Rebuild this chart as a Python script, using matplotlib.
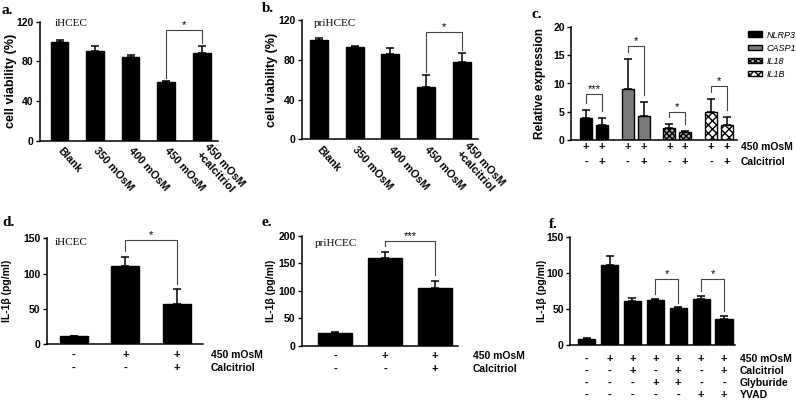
import numpy as np
import matplotlib
matplotlib.use("Agg")
import matplotlib.pyplot as plt
from matplotlib.transforms import blended_transform_factory

plt.rcParams['font.family'] = ['Liberation Sans', 'DejaVu Sans']
plt.rcParams['font.weight'] = 'bold'
plt.rcParams['axes.labelweight'] = 'bold'
plt.rcParams['hatch.linewidth'] = 1.0

W, H = 796, 401

# panel a / b : cell viability
ab_labels = ['Blank', '350 mOsM', '400 mOsM', '450 mOsM', '450 mOsM\n+calcitriol']
a_vals = [100, 91, 84, 59, 89]
a_err = [2, 5, 2.5, 1, 7]
a_sig = [(3, 4, '*', 111.7)]
b_vals = [100, 92.6, 86, 52.5, 78]
b_err = [2, 1.5, 6, 12, 9]
b_sig = [(3, 4, '*', 108)]

# panel c : relative expression
c_genes = ['NLRP3', 'CASP1', 'IL18', 'IL1B']
c_ctrl = [3.8, 9.0, 2.1, 5.0]
c_ctrl_err = [1.5, 5.4, 0.7, 2.3]
c_calc = [2.7, 4.2, 1.4, 2.6]
c_calc_err = [1.2, 2.5, 0.15, 1.5]
c_marks = ['***', '*', '*', '*']
c_sig_top = [8.1, 16.6, 4.85, 9.6]
c_osm = ['+', '+', '+', '+', '+', '+', '+', '+']
c_calcitriol = ['-', '+', '-', '+', '-', '+', '-', '+']

# panel d / e : IL-1b
d_vals = [11, 111, 57]
d_err = [0.8, 13, 21]
d_sig = [(1, 2, '*', 147.6)]
e_vals = [23.7, 159, 106]
e_err = [1.5, 12.5, 12]
e_sig = [(1, 2, '***', 191.5)]
de_osm = ['-', '+', '+']
de_calcitriol = ['-', '-', '+']

# panel f
f_vals = [9, 112, 61.8, 62, 51, 64, 36]
f_err = [0.8, 12.5, 3.2, 2.5, 1.5, 4.7, 5]
f_sig = [(3, 4, '*', 91.5), (5, 6, '*', 91.5)]
f_osm = ['-', '+', '+', '+', '+', '+', '+']
f_calcitriol = ['-', '-', '+', '-', '+', '-', '+']
f_glyburide = ['-', '-', '-', '+', '+', '-', '-']
f_yvad = ['-', '-', '-', '-', '-', '+', '+']

fig = plt.figure(figsize=(W / 100, H / 100), dpi=100)


def axes_px(left, top, right, bottom):
    return fig.add_axes([left / W, 1 - bottom / H, (right - left) / W, (bottom - top) / H])


def setup(ax, ymax, yticks, xlim, ylabel, label_x_px, left_px, right_px, lsize):
    ax.set_ylim(0, ymax)
    ax.set_xlim(*xlim)
    ax.set_yticks(yticks)
    for s in ['top', 'right']:
        ax.spines[s].set_visible(False)
    for s in ['left', 'bottom']:
        ax.spines[s].set_linewidth(1.1)
    ax.tick_params(axis='x', length=0, labelsize=7.5)
    ax.tick_params(axis='y', direction='out', length=3, width=1, labelsize=7.5, pad=1.5)
    ax.set_xticks([])
    ax.set_ylabel(ylabel, fontsize=lsize, fontweight='bold')
    # label x is the right edge of the rotated label
    ax.yaxis.set_label_coords((label_x_px - left_px) / (right_px - left_px), 0.5)


def draw_bars(ax, x, vals, errs, width, **kw):
    kw.setdefault('color', 'black')
    cont = ax.bar(x, vals, width, edgecolor='black', linewidth=1, zorder=2, **kw)
    ax.errorbar(x, vals, yerr=[np.zeros(len(vals)), errs], fmt='none', ecolor='black',
                elinewidth=1.1, capsize=3, capthick=1.1, zorder=1)
    return cont


def bracket(ax, x1, x2, top, cap1, cap2, mark, gap, fs=8):
    ax.plot([x1, x1, x2, x2], [cap1 + gap, top, top, cap2 + gap], color='#444444', lw=0.8, zorder=3)
    ax.text((x1 + x2) / 2, top, mark, ha='center', va='bottom', fontsize=fs, fontweight='normal')


def sign_rows(ax, x, rows, names, ys_px, label_x_px):
    tr = blended_transform_factory(ax.transData, fig.transFigure)
    for signs, name, y in zip(rows, names, ys_px):
        for xi, s in zip(x, signs):
            ax.text(xi, 1 - y / H, s, transform=tr, ha='center', va='center', fontsize=8)
        fig.text(label_x_px / W, 1 - y / H, name, ha='left', va='center', fontsize=7.5)


def letter(x_px, y_px, s):
    fig.text(x_px / W, 1 - y_px / H, s, family=['Liberation Serif', 'DejaVu Serif'],
             fontsize=11, fontweight='bold', ha='left', va='center')


def cell_text(ax_x_px, y_px, s):
    fig.text(ax_x_px / W, 1 - y_px / H, s, family=['Liberation Serif', 'DejaVu Serif'],
             fontsize=8, fontweight='normal', ha='left', va='center')


# ---- panels a and b
for (l, t, r, b), xl, vals, errs, sig, lx, cell, cpos, lpos in [
        ((40, 21.7, 218, 141), (-0.55, 4.46), a_vals, a_err, a_sig, 17, 'iHCEC', (55, 24), (2, 11)),
        ((301.7, 20, 478, 139.3), (-0.48, 4.45), b_vals, b_err, b_sig, 278.5, 'priHCEC', (314, 24), (262, 9))]:
    ax = axes_px(l, t, r, b)
    x = np.arange(len(vals))
    setup(ax, 120, [0, 40, 80, 120], xl, 'cell viability (%)', lx, l, r, 9)
    draw_bars(ax, x, vals, errs, 0.5)
    ax.set_xticks(x)
    ax.set_xticklabels(ab_labels, rotation=-48, ha='left', va='center', rotation_mode='anchor', fontsize=7.8)
    ax.tick_params(axis='x', pad=6)
    for i, j, mark, top in sig:
        bracket(ax, i, j, top, vals[i] + errs[i], vals[j] + errs[j], mark, 3)
    cell_text(*cpos, cell)
    letter(*lpos, 'a.' if cell == 'iHCEC' else 'b.')

# ---- panel c
axc = axes_px(571, 27.3, 737, 139.7)
setup(axc, 20, [0, 5, 10, 15, 20], (-0.55, 3.43), 'Relative expression', 545.5, 571, 737, 8.5)
g = np.arange(len(c_genes))
styles = [dict(color='black'),
          dict(color='#7a7a7a'),
          dict(color='#b0b0b0', hatch='xxxxxx'),
          dict(color='white', hatch='xxxx')]
handles = []
for gi in g:
    cont = draw_bars(axc, [gi - 0.19, gi + 0.19], [c_ctrl[gi], c_calc[gi]],
                     [c_ctrl_err[gi], c_calc_err[gi]], 0.29, **styles[gi])
    handles.append(cont[0])
    bracket(axc, gi - 0.19, gi + 0.19, c_sig_top[gi], c_ctrl[gi] + c_ctrl_err[gi],
            c_calc[gi] + c_calc_err[gi], c_marks[gi], 1.2, fs=8)
axc.legend(handles, c_genes, loc='upper left', bbox_to_anchor=(748 / W, 1 - 30.5 / H),
           bbox_transform=fig.transFigure, frameon=False,
           prop={'style': 'italic', 'weight': 'normal', 'size': 6.5},
           handlelength=1.6, handleheight=0.6, handletextpad=0.45,
           labelspacing=0.45, borderpad=0, borderaxespad=0)
cx = np.ravel([[gi - 0.19, gi + 0.19] for gi in g])
sign_rows(axc, cx, [c_osm, c_calcitriol], ['450 mOsM', 'Calcitriol'], [146.7, 161.7], 741)
letter(532, 14, 'c.')

# ---- panels d and e
for (l, t, r, b), xl, ymax, yt, vals, errs, sig, width, lx, cell, cpos, lpos, rx, rys, let in [
        ((46.7, 238.3, 203, 344), (-0.52, 2.5), 150, [0, 50, 100, 150], d_vals, d_err, d_sig, 0.54,
         12, 'iHCEC', (55, 242), (2, 223), 211, (355, 368), 'd.'),
        ((301.7, 236, 458, 345.7), (-0.67, 2.46), 200, [0, 50, 100, 150, 200], e_vals, e_err, e_sig, 0.68,
         275.5, 'priHCEC', (315, 243), (262, 223), 473, (356, 369), 'e.')]:
    ax = axes_px(l, t, r, b)
    x = np.arange(len(vals))
    setup(ax, ymax, yt, xl, 'IL-1β (pg/ml)', lx, l, r, 7.5)
    draw_bars(ax, x, vals, errs, width)
    for i, j, mark, top in sig:
        bracket(ax, i, j, top, vals[i] + errs[i], vals[j] + errs[j], mark, ymax * 0.05)
    sign_rows(ax, x, [de_osm, de_calcitriol], ['450 mOsM', 'Calcitriol'], rys, rx)
    cell_text(*cpos, cell)
    letter(*lpos, let)

# ---- panel f
axf = axes_px(570, 237.3, 735, 345)
xf = np.arange(len(f_vals))
setup(axf, 150, [0, 50, 100, 150], (-0.73, 6.48), 'IL-1β (pg/ml)', 547, 570, 735, 7.5)
draw_bars(axf, xf, f_vals, f_err, 0.75)
for i, j, mark, top in f_sig:
    bracket(axf, i, j, top, f_vals[i] + f_err[i], f_vals[j] + f_err[j], mark, 6)
sign_rows(axf, xf, [f_osm, f_calcitriol, f_glyburide, f_yvad],
          ['450 mOsM', 'Calcitriol', 'Glyburide', 'YVAD'], [359.3, 371, 382.7, 395], 740)
letter(549, 225, 'f.')

fig.savefig('out.png', dpi=100)
